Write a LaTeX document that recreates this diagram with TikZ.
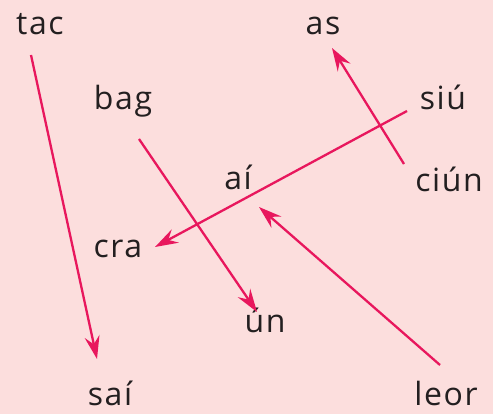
\documentclass[tikz,border=0pt]{standalone}
\usepackage{fontspec}
\setmainfont{Open Sans}[LetterSpace=5]
\usetikzlibrary{arrows.meta}
\definecolor{bg}{HTML}{FCDEDD}
\definecolor{arr}{HTML}{E8175D}
\definecolor{txt}{HTML}{231F20}
\begin{document}
\begin{tikzpicture}[x=1pt,y=-1pt,
  word/.style={text=txt,font=\fontsize{32}{36}\selectfont,inner sep=0pt,anchor=base},
  link/.style={draw=arr,line width=2.3pt,-{Stealth[length=23pt,width=15pt,inset=8pt]}}]
\fill[bg] (0,0) rectangle (493,414);
\useasboundingbox (0,0) rectangle (493,414);
\node[word] (tac) at (40,35) {tac};
\node[word] (bag) at (123,110) {bag};
\node[word] (as) at (323,35) {as};
\node[word] (siu) at (443,110) {siú};
\node[word] (ai) at (238,190) {aí};
\node[word] (ciun) at (449,192) {ciún};
\node[word] (cra) at (118,258) {cra};
\node[word] (un) at (265,332) {ún};
\node[word] (sai) at (110,405) {saí};
\node[word] (leor) at (446,405) {leor};
\coordinate (tacS) at (31,55);
\coordinate (saiE) at (97,359);
\coordinate (bagS) at (139,139);
\coordinate (unE) at (257,312);
\coordinate (siuS) at (407,111);
\coordinate (craE) at (155,247);
\coordinate (ciunS) at (404,164);
\coordinate (asE) at (332,48);
\coordinate (leorS) at (440,365);
\coordinate (aiE) at (259,207);
\draw[link] (tacS) -- (saiE);
\draw[link] (bagS) -- (unE);
\draw[link] (siuS) -- (craE);
\draw[link] (ciunS) -- (asE);
\draw[link] (leorS) -- (aiE);
\end{tikzpicture}
\end{document}
